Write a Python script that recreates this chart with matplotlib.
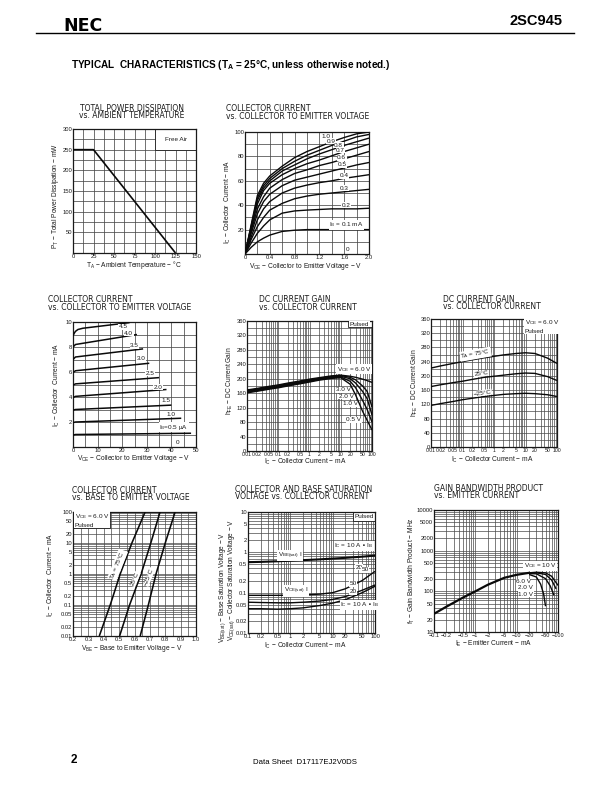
import matplotlib
matplotlib.use("Agg")
import matplotlib.pyplot as plt
from matplotlib.patches import Rectangle
from matplotlib.ticker import LogLocator, NullFormatter

plt.rcParams['font.family'] = ['Liberation Sans', 'DejaVu Sans']
plt.rcParams['mathtext.default'] = 'regular'

# --- chart 1: power dissipation
ta = [0, 25, 125]
pt = [250, 250, 0]

# --- chart 2: Ic vs Vce, low voltage
vce2 = [0, 0.1, 0.2, 0.3, 0.4, 0.6, 0.8, 1.0, 1.2, 1.4, 1.6, 1.8, 2.0]
ic2_01 = [0, 5.5, 10, 13, 15.5, 18.5, 19.5, 20, 20, 20, 20, 20, 20]
ic2_02 = [0, 9, 17, 23, 28, 33.5, 35.3, 36, 36.5, 37, 37, 37, 37.5]
ic2_03 = [0, 12, 22.5, 30, 36, 41.5, 45.3, 47.5, 49, 50, 51, 52, 53]
ic2_04 = [0, 14, 28, 37, 43, 50, 54, 56.5, 58.5, 60, 62, 63.5, 65]
ic2_05 = [0, 17, 33, 43, 49, 56, 60.5, 63, 65.5, 68, 70.5, 73, 75]
ic2_06 = [0, 19, 37, 47, 54, 61, 66, 69, 72.5, 75, 78, 81, 84]
ic2_07 = [0, 21, 41, 52, 58, 65, 70, 74, 77, 80.5, 84, 87, 90]
ic2_08 = [0, 22, 44, 54, 60, 68, 73, 78, 82, 85.5, 89, 92, 95]
ic2_09 = [0, 23, 46, 56, 62, 70, 76, 81, 85, 89, 92.5, 96, 98]
ic2_10 = [0, 24, 48, 58, 64, 72, 79, 84, 88, 92, 95.5, 98.5, 100]

# --- chart 3: Ic vs Vce, high voltage (start / knee / end)
vce3_05 = [0, 1, 48]
ic3_05 = [0.95, 1.0, 1.1]
vce3_10 = [0, 1, 44]
ic3_10 = [1.95, 2.0, 2.3]
vce3_15 = [0, 1, 40]
ic3_15 = [2.95, 3.0, 3.35]
vce3_20 = [0, 1, 38]
ic3_20 = [3.95, 4.05, 4.6]
vce3_25 = [0, 1, 35]
ic3_25 = [4.95, 5.05, 5.55]
vce3_30 = [0, 1, 31]
ic3_30 = [5.95, 6.1, 6.7]
vce3_35 = [0, 1, 28.5]
ic3_35 = [7.0, 7.2, 7.85]
vce3_40 = [0, 1, 26]
ic3_40 = [8.0, 8.2, 9.0]
vce3_45 = [0, 0.5, 1, 2, 4, 23]
ic3_45 = [8.9, 9.1, 9.25, 9.4, 9.5, 9.95]

# --- chart 4: hFE vs Ic by Vce
ic4 = [0.01, 0.02, 0.05, 0.1, 0.2, 0.5, 1, 2, 5, 10, 20, 30, 50, 70, 100]
hfe_6v = [169, 173, 179, 183, 188, 194, 199, 203, 208, 210, 207, 204, 199, 195, 190]
hfe_3v = [167, 171, 177, 181, 186, 192, 197, 201, 206, 209, 204, 197, 180, 165, 122]
hfe_2v = [165, 169, 175, 179, 184, 190, 195, 200, 205, 207, 200, 188, 165, 145, 100]
hfe_1v = [163, 167, 173, 177, 182, 188, 193, 198, 203, 205, 193, 175, 140, 115, 80]
hfe_05v = [161, 165, 171, 175, 180, 186, 191, 196, 201, 203, 185, 155, 110, 85, 58]

# --- chart 5: hFE vs Ic by temperature
ic5 = [0.01, 0.02, 0.05, 0.1, 0.2, 0.5, 1, 2, 5, 10, 20, 50, 100]
hfe_75 = [222, 228, 235, 240, 245, 251, 255, 259, 263, 265, 263, 250, 235]
hfe_25 = [170, 175, 181, 185, 190, 196, 199, 202, 206, 208, 207, 198, 187]
hfe_m25 = [117, 122, 128, 133, 137, 142, 145, 148, 150, 151, 150, 147, 142]

# --- chart 6: Ic vs Vbe
ic6 = [0.01, 0.1, 1, 10, 100]
vbe_75 = [0.371, 0.442, 0.507, 0.583, 0.669]
vbe_25 = [0.503, 0.568, 0.643, 0.706, 0.766]
vbe_m25 = [0.637, 0.69, 0.74, 0.80, 0.864]

# --- chart 7: saturation voltages
ic7 = [0.1, 0.2, 0.5, 1, 2, 5, 10, 20, 50, 100]
vbe_sat = [0.57, 0.58, 0.6, 0.62, 0.64, 0.67, 0.7, 0.73, 0.78, 0.83]
vce_sat_10 = [0.04, 0.04, 0.039, 0.04, 0.042, 0.048, 0.055, 0.067, 0.1, 0.144]
vce_sat_20 = [0.058, 0.057, 0.056, 0.056, 0.058, 0.062, 0.068, 0.08, 0.115, 0.155]
vce_sat_50 = [0.086, 0.086, 0.086, 0.087, 0.088, 0.092, 0.1, 0.125, 0.2, 0.337]

# --- chart 8: gain bandwidth product
ie8 = [0.1, 0.2, 0.5, 1, 2, 5, 10, 20]
ft_base = [28, 42, 70, 100, 145, 215, 255, 285]
ie_10v = [20, 30, 50, 70, 100]
ft_10v = [285, 295, 285, 235, 140]
ie_6v = [20, 30, 50, 70, 90]
ft_6v = [280, 285, 260, 190, 115]
ie_2v = [20, 30, 50, 65, 80]
ft_2v = [272, 270, 205, 135, 80]
ie_1v = [20, 30, 38, 45, 50]
ft_1v = [260, 225, 150, 85, 43]

log_grid_labels = [0.01, 0.02, 0.05, 0.1, 0.2, 0.5, 1, 2, 5, 10, 20, 50, 100]
ie_ticks = [0.1, 0.2, 0.5, 1, 2, 5, 10, 20, 50, 100]
ie_labels = ["−0.1", "−0.2", "−0.5", "−1", "−2", "−5", "−10", "−20", "−50", "−100"]
ft_ticks = [10, 20, 50, 100, 200, 500, 1000, 2000, 5000, 10000]

W, H = 612, 792
fig = plt.figure(figsize=(W / 100, H / 100), dpi=100, facecolor='white')
INK = '#1a1a1a'
GRID = '#4a4a4a'


def page_text(x, y, s, **kw):
    kw.setdefault('ha', 'left')
    kw.setdefault('va', 'center')
    kw.setdefault('color', INK)
    fig.text(x / W, 1 - y / H, s, **kw)


def make_axes(left, top, right, bottom):
    ax = fig.add_axes([left / W, 1 - bottom / H, (right - left) / W, (bottom - top) / H])
    ax.set_axisbelow(True)
    ax.tick_params(which='both', length=0, labelsize=4.2, pad=0.5, colors=INK)
    for s in ax.spines.values():
        s.set_linewidth(0.9)
        s.set_color(INK)
    return ax


def lin_grid(ax, xlim, ylim, xlab, ylab, xgrid, ygrid):
    ax.set_xlim(xlim)
    ax.set_ylim(ylim)
    ax.set_xticks(xlab)
    ax.set_yticks(ylab)
    ax.set_xticks(xgrid, minor=True)
    ax.set_yticks(ygrid, minor=True)
    ax.grid(which='both', color=GRID, lw=0.55)


def log_axis(axis, ticks, labels=None):
    axis.set_ticks(ticks)
    axis.set_ticklabels(labels if labels else [f"{t:g}" for t in ticks])
    axis.set_minor_locator(LogLocator(base=10, subs=range(2, 10), numticks=50))
    axis.set_minor_formatter(NullFormatter())


def blank(ax, x0, y0, x1, y1):
    ax.add_patch(Rectangle((x0, y0), x1 - x0, y1 - y0, fc='white', ec=INK, lw=0.6, zorder=2))


def note(ax, x, y, s, **kw):
    kw.setdefault('fontsize', 4.6)
    kw.setdefault('ha', 'center')
    kw.setdefault('va', 'center')
    ax.text(x, y, s, color=INK, zorder=5,
            bbox=dict(fc='white', ec='none', pad=0.3), **kw)


def curve(ax, x, y, lw=1.0):
    ax.plot(x, y, color='#0a0a0a', lw=lw, zorder=4, solid_capstyle='butt')


# page header
page_text(63, 26, "NEC", fontsize=12.5, fontweight='bold', family='DejaVu Sans', color='black')
page_text(562, 21, "2SC945", fontsize=10.5, fontweight='bold', ha='right', color='black')
fig.add_artist(plt.Line2D([36 / W, 574 / W], [1 - 33 / H, 1 - 33 / H], color='black', lw=1.0))
page_text(71, 65, "TYPICAL  CHARACTERISTICS (T$_{A}$ = 25°C, unless otherwise noted.)",
          fontsize=7.2, fontweight='bold', color='black')
page_text(71, 760, "2", fontsize=8.5, fontweight='bold', color='black')
page_text(305, 762, "Data Sheet  D17117EJ2V0DS", fontsize=5.6, ha='center', color='black')

TS = 5.5
LS = 4.8
TF = 'DejaVu Sans'

# chart 1
ax = make_axes(73, 129, 196, 253)
lin_grid(ax, (0, 150), (0, 300), range(0, 151, 25), range(50, 301, 50),
         [12.5 * i for i in range(13)], range(0, 301, 25))
blank(ax, 100, 250, 150, 300)
curve(ax, ta, pt, lw=1.2)
note(ax, 126, 274, "Free Air")
page_text(132, 108.5, "TOTAL POWER DISSIPATION", fontsize=TS, ha='center', family=TF)
page_text(132, 116, "vs. AMBIENT TEMPERATURE", fontsize=TS, ha='center', family=TF)
page_text(134, 265, "T$_{A}$ − Ambient Temperature − °C", fontsize=LS, ha='center')
page_text(56, 196, "P$_{T}$ − Total Power Dissipation − mW", fontsize=LS, ha='center', rotation=90)

# chart 2
ax = make_axes(245, 132, 369, 254)
lin_grid(ax, (0, 2), (0, 100), [0, 0.4, 0.8, 1.2, 1.6, 2.0], range(20, 101, 20),
         [0.2 * i for i in range(11)], range(0, 101, 10))
ax.set_xticklabels(["0", "0.4", "0.8", "1.2", "1.6", "2.0"])
for ib in [ic2_01, ic2_02, ic2_03, ic2_04, ic2_05, ic2_06, ic2_07, ic2_08, ic2_09, ic2_10]:
    curve(ax, vce2, ib)
for x, y, s in [(1.30, 96, "1.0"), (1.39, 92.4, "0.9"), (1.51, 89, "0.8"), (1.54, 85, "0.7"),
                (1.56, 79, "0.6"), (1.57, 73, "0.5"), (1.6, 64, "0.4"), (1.6, 54, "0.3"),
                (1.63, 40, "0.2"), (1.64, 24, "I$_{B}$ = 0.1 mA"), (1.66, 3.5, "0")]:
    note(ax, x, y, s)
page_text(226, 108.5, "COLLECTOR CURRENT", fontsize=TS, family=TF)
page_text(226, 116.5, "vs. COLLECTOR TO EMITTER VOLTAGE", fontsize=TS, family=TF)
page_text(306, 266, "V$_{CE}$ − Collector to Emitter Voltage − V", fontsize=LS, ha='center')
page_text(228, 202, "I$_{C}$ − Collector  Current − mA", fontsize=LS, ha='center', rotation=90)

# chart 3
ax = make_axes(73, 322, 196, 447)
lin_grid(ax, (0, 50), (0, 10), range(0, 51, 10), range(2, 11, 2), range(0, 51, 5), range(0, 11))
for vx, vy in [(vce3_05, ic3_05), (vce3_10, ic3_10), (vce3_15, ic3_15), (vce3_20, ic3_20),
               (vce3_25, ic3_25), (vce3_30, ic3_30), (vce3_35, ic3_35), (vce3_40, ic3_40),
               (vce3_45, ic3_45)]:
    curve(ax, vx, vy, lw=1.1)
for x, y, s in [(20.3, 9.6, "4.5"), (22.6, 9.1, "4.0"), (25, 8.1, "3.5"), (27.7, 7.05, "3.0"),
                (31.4, 5.9, "2.5"), (34.7, 4.77, "2.0"), (37.7, 3.7, "1.5"), (40, 2.63, "1.0"),
                (41, 1.6, "I$_{B}$=0.5 µA"), (42.6, 0.4, "0")]:
    note(ax, x, y, s)
page_text(48, 300, "COLLECTOR CURRENT", fontsize=TS, family=TF)
page_text(48, 308, "vs. COLLECTOR TO EMITTER VOLTAGE", fontsize=TS, family=TF)
page_text(134, 458.5, "V$_{CE}$ − Collector to Emitter Voltage − V", fontsize=LS, ha='center')
page_text(57, 385, "I$_{C}$ − Collector  Current − mA", fontsize=LS, ha='center', rotation=90)

# chart 4
ax = make_axes(247, 321, 372, 451)
ax.set_xscale('log')
ax.set_xlim(0.01, 100)
ax.set_ylim(0, 360)
log_axis(ax.xaxis, log_grid_labels)
ax.tick_params(axis='x', labelsize=3.7)
ax.set_yticks(range(0, 361, 40))
ax.set_yticks(range(0, 361, 20), minor=True)
ax.grid(which='both', color=GRID, lw=0.5)
blank(ax, 17, 343, 100, 360)
for h in [hfe_6v, hfe_3v, hfe_2v, hfe_1v, hfe_05v]:
    curve(ax, ic4, h)
note(ax, 40, 351, "Pulsed")
for x, y, s in [(27, 226, "V$_{CE}$ = 6.0 V"), (12, 170, "3.0 V"), (15, 151, "2.0 V"),
                (20, 131, "1.0 V"), (26, 87, "0.5 V")]:
    note(ax, x, y, s)
page_text(259, 299.5, "DC CURRENT GAIN", fontsize=TS, family=TF)
page_text(259, 307, "vs. COLLECTOR CURRENT", fontsize=TS, family=TF)
page_text(305, 462, "I$_{C}$ − Collector Current − mA", fontsize=LS, ha='center')
page_text(230, 381, "h$_{FE}$ − DC Current Gain", fontsize=LS, ha='center', rotation=90)

# chart 5
ax = make_axes(431, 319, 557, 447)
ax.set_xscale('log')
ax.set_xlim(0.01, 100)
ax.set_ylim(0, 360)
log_axis(ax.xaxis, log_grid_labels)
ax.tick_params(axis='x', labelsize=3.7)
ax.set_yticks(range(0, 361, 40))
ax.set_yticks(range(0, 361, 20), minor=True)
ax.grid(which='both', color=GRID, lw=0.5)
blank(ax, 8.7, 320, 100, 360)
for h in [hfe_75, hfe_25, hfe_m25]:
    curve(ax, ic5, h)
note(ax, 9.6, 340, "V$_{CE}$ = 6.0 V\nPulsed", ha='left', linespacing=1.3)
note(ax, 0.26, 261, "T$_{A}$ = 75°C", rotation=10)
note(ax, 0.39, 206, "25°C", rotation=8)
note(ax, 0.43, 152, "−25°C", rotation=8)
page_text(443, 299, "DC CURRENT GAIN", fontsize=TS, family=TF)
page_text(443, 306.5, "vs. COLLECTOR CURRENT", fontsize=TS, family=TF)
page_text(492, 459.5, "I$_{C}$ − Collector Current − mA", fontsize=LS, ha='center')
page_text(415, 383, "h$_{FE}$ − DC Current Gain", fontsize=LS, ha='center', rotation=90)

# chart 6
ax = make_axes(73, 512, 196, 636)
ax.set_yscale('log')
ax.set_xlim(0.2, 1.0)
ax.set_ylim(0.01, 100)
log_axis(ax.yaxis, log_grid_labels)
ax.set_xticks([0.2, 0.3, 0.4, 0.5, 0.6, 0.7, 0.8, 0.9, 1.0])
ax.set_xticks([0.25, 0.35, 0.45, 0.55, 0.65, 0.75, 0.85, 0.95], minor=True)
ax.grid(which='both', color=GRID, lw=0.5)
blank(ax, 0.2, 30, 0.442, 100)
for v in [vbe_75, vbe_25, vbe_m25]:
    curve(ax, v, ic6, lw=1.15)
note(ax, 0.21, 55, "V$_{CE}$ = 6.0 V\nPulsed", ha='left', linespacing=1.3)
note(ax, 0.49, 1.98, "T$_{A}$ = 75°C", rotation=68)
note(ax, 0.604, 0.68, "25°C", rotation=68)
note(ax, 0.695, 0.8, "−25°C", rotation=68)
page_text(72, 490, "COLLECTOR CURRENT", fontsize=TS, family=TF)
page_text(72, 498, "vs. BASE TO EMITTER VOLTAGE", fontsize=TS, family=TF)
page_text(132, 648, "V$_{BE}$ − Base to Emitter Voltage − V", fontsize=LS, ha='center')
page_text(51, 575, "I$_{C}$ − Collector  Current − mA", fontsize=LS, ha='center', rotation=90)

# chart 7
ax = make_axes(248, 512, 375, 633)
ax.set_xscale('log')
ax.set_yscale('log')
ax.set_xlim(0.1, 100)
ax.set_ylim(0.01, 10)
log_axis(ax.xaxis, ie_ticks)
log_axis(ax.yaxis, [0.01, 0.02, 0.05, 0.1, 0.2, 0.5, 1, 2, 5, 10])
ax.grid(which='both', color=GRID, lw=0.5)
blank(ax, 31, 5.9, 100, 10)
curve(ax, ic7, vbe_sat, lw=1.5)
for v in [vce_sat_10, vce_sat_20, vce_sat_50]:
    curve(ax, ic7, v)
note(ax, 55, 7.7, "Pulsed")
for x, y, s in [(32, 1.46, "I$_{C}$ = 10 A • I$_{B}$"), (0.98, 0.83, "V$_{BE(sat)}$ I"),
                (1.35, 0.11, "V$_{CE(sat)}$ I"), (30, 0.166, "50"), (31, 0.105, "20"),
                (42, 0.43, "20"), (58, 0.37, "50"), (44, 0.05, "I$_{C}$ = 10 A • I$_{B}$")]:
    note(ax, x, y, s)
page_text(235, 489.5, "COLLECTOR AND BASE SATURATION", fontsize=TS, family=TF)
page_text(235, 497, "VOLTAGE vs. COLLECTOR CURRENT", fontsize=TS, family=TF)
page_text(305, 645.5, "I$_{C}$ − Collector Current − mA", fontsize=LS, ha='center')
page_text(223, 587, "V$_{BE(sat)}$ − Base Saturation Voltage − V", fontsize=4.7, ha='center', rotation=90)
page_text(232, 580, "V$_{CE(sat)}$ − Collector Saturation Voltage − V", fontsize=4.7, ha='center', rotation=90)

# chart 8
ax = make_axes(434, 510, 558, 632)
ax.set_xscale('log')
ax.set_yscale('log')
ax.set_xlim(0.1, 100)
ax.set_ylim(10, 10000)
log_axis(ax.xaxis, ie_ticks, ie_labels)
log_axis(ax.yaxis, ft_ticks)
ax.tick_params(axis='x', labelsize=4.0)
ax.grid(which='both', color=GRID, lw=0.5)
curve(ax, ie8, ft_base, lw=1.6)
for ix, fy in [(ie_10v, ft_10v), (ie_6v, ft_6v), (ie_2v, ft_2v), (ie_1v, ft_1v)]:
    curve(ax, ix, fy)
for x, y, s in [(37, 427, "V$_{CE}$ = 10 V"), (14.6, 170, "6.0 V"), (16, 122, "2.0 V"), (16.6, 85, "1.0 V")]:
    note(ax, x, y, s)
page_text(434, 488.5, "GAIN BANDWIDTH PRODUCT", fontsize=TS, family=TF)
page_text(434, 496, "vs. EMITTER CURRENT", fontsize=TS, family=TF)
page_text(494, 643.5, "I$_{E}$ − Emitter Current − mA", fontsize=LS, ha='center')
page_text(412, 571, "f$_{T}$ − Gain Bandwidth Product − MHz", fontsize=LS, ha='center', rotation=90)

fig.savefig("out.png", dpi=100)
